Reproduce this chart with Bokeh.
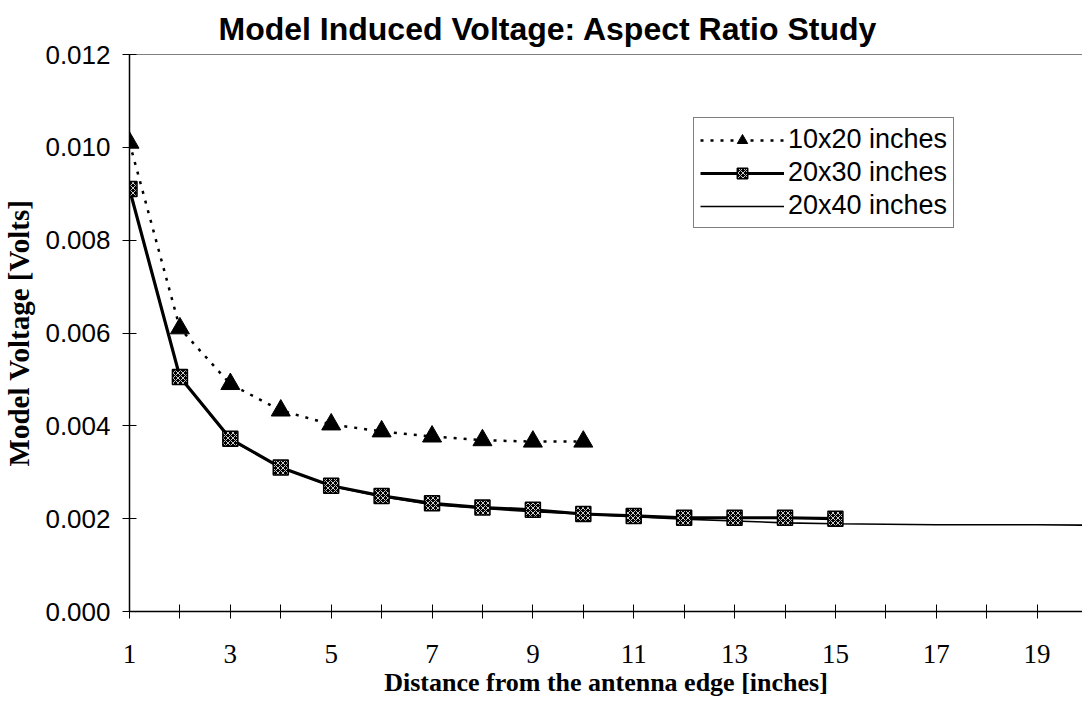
from bokeh.plotting import figure
from bokeh.models import FixedTicker, Span, Range1d, Legend, LegendItem, NumeralTickFormatter
from bokeh.embed import file_html
from bokeh.resources import INLINE

# ---- data ----
x20 = [1, 2, 3, 4, 5, 6, 7, 8, 9, 10]
v20 = [0.0101, 0.0061, 0.0049, 0.00433, 0.00403, 0.00388, 0.00377, 0.00369, 0.00366, 0.00366]

x30 = [1, 2, 3, 4, 5, 6, 7, 8, 9, 10, 11, 12, 13, 14, 15]
v30 = [0.0091, 0.00505, 0.00372, 0.0031, 0.00271, 0.00249, 0.00233, 0.00224, 0.00219,
       0.0021, 0.00206, 0.00202, 0.00202, 0.00202, 0.00200]

x40 = list(range(1, 21))
v40 = [0.0091, 0.00505, 0.0037, 0.0031, 0.0027, 0.00248, 0.0023, 0.00222, 0.00215, 0.0021,
       0.00204, 0.00199, 0.00195, 0.00191, 0.00189, 0.00188, 0.00187, 0.00187, 0.00187, 0.00186]

labels = ["10x20 inches", "20x30 inches", "20x40 inches"]
x_label_ticks = [1, 3, 5, 7, 9, 11, 13, 15, 17, 19]
x_minor_ticks = [2, 4, 6, 8, 10, 12, 14, 16, 18, 20]
y_ticks = [0.0, 0.002, 0.004, 0.006, 0.008, 0.010, 0.012]

title = "Model Induced Voltage: Aspect Ratio Study"
x_title = "Distance from the antenna edge [inches]"
y_title = "Model Voltage [Volts]"

SANS = "Liberation Sans"
SERIF = "Liberation Serif"

p = figure(width=1082, height=702, output_backend="svg", toolbar_location=None,
           x_range=Range1d(1, 19.9), y_range=Range1d(0, 0.012),
           min_border_left=129, min_border_right=0, min_border_top=53, min_border_bottom=91)
p.background_fill_color = "white"
p.border_fill_color = "white"
p.outline_line_color = None
p.grid.visible = False

p.title.text = title
p.title.text_font = SANS
p.title.text_font_style = "bold"
p.title.text_font_size = "32px"
p.title.align = "left"
p.title.offset = 89
p.title.standoff = 16
p.title.text_color = "black"

# axes
xa = p.xaxis[0]
xa.ticker = FixedTicker(ticks=x_label_ticks, minor_ticks=x_minor_ticks)
xa.axis_label = x_title
xa.axis_label_text_font = SERIF
xa.axis_label_text_font_style = "bold"
xa.axis_label_text_font_size = "26px"
xa.axis_label_text_color = "black"
xa.axis_label_standoff = 2
xa.major_label_text_font = SERIF
xa.major_label_text_font_size = "27px"
xa.major_label_text_color = "black"
xa.major_label_standoff = 26
xa.major_tick_in = 7
xa.major_tick_out = 7
xa.minor_tick_in = 7
xa.minor_tick_out = 7
xa.axis_line_width = 1.5
xa.axis_line_color = "black"
xa.major_tick_line_color = "black"
xa.minor_tick_line_color = "black"

ya = p.yaxis[0]
ya.ticker = FixedTicker(ticks=y_ticks, minor_ticks=[])
ya.formatter = NumeralTickFormatter(format="0.000")
ya.axis_label = y_title
ya.axis_label_text_font = SERIF
ya.axis_label_text_font_style = "bold"
ya.axis_label_text_font_size = "29px"
ya.axis_label_text_color = "black"
ya.axis_label_standoff = 7
ya.major_label_text_font = SANS
ya.major_label_text_font_size = "26px"
ya.major_label_text_color = "black"
ya.major_label_standoff = 12
ya.major_tick_in = 7
ya.major_tick_out = 7
ya.axis_line_width = 1.5
ya.axis_line_color = "black"
ya.major_tick_line_color = "black"

# top frame line
p.add_layout(Span(location=0.012, dimension="width", line_color="black", line_width=1.2))

# series
l40 = p.line(x40, v40, line_color="black", line_width=1.6)

l30 = p.line(x30, v30, line_color="black", line_width=3.2)
s30 = p.scatter(x30, v30, marker="square", size=15, fill_color="black", line_color="black",
                line_width=1.5, hatch_pattern="diagonal_cross", hatch_color="#cccccc",
                hatch_scale=5, hatch_weight=1)

l20 = p.line(x20, v20, line_color="black", line_width=2.5, line_dash="3 7")
s20 = p.scatter(x20, v20, marker="triangle", size=19, fill_color="black", line_color="black")

legend = Legend(items=[
    LegendItem(label=labels[0], renderers=[l20, s20]),
    LegendItem(label=labels[1], renderers=[l30, s30]),
    LegendItem(label=labels[2], renderers=[l40]),
], location=(564, 383))
legend.label_text_font = SANS
legend.label_text_font_size = "27px"
legend.label_text_color = "black"
legend.glyph_width = 84
legend.glyph_height = 26
legend.label_standoff = 4
legend.spacing = 2
legend.padding = 6
legend.margin = 0
legend.border_line_color = "black"
legend.border_line_width = 1.2
legend.background_fill_color = "white"
legend.background_fill_alpha = 1.0
p.add_layout(legend)

open("out.html", "w").write(file_html(p, INLINE))
